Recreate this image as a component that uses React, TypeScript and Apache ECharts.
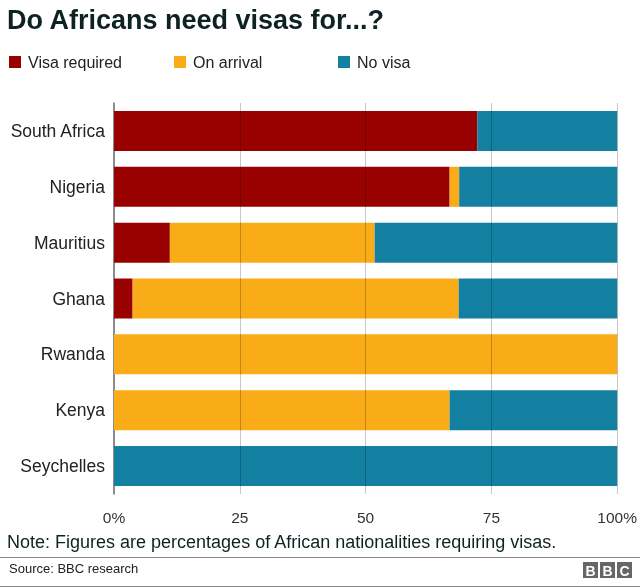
import React, { useEffect, useRef } from "react";
import * as echarts from "echarts";

const countries = ["South Africa", "Nigeria", "Mauritius", "Ghana", "Rwanda", "Kenya", "Seychelles"];
const visaRequired = [72.2, 66.7, 11.1, 3.7, 0, 0, 0];
const onArrival = [0, 1.9, 40.7, 64.8, 100, 66.7, 0];
const noVisa = [27.8, 31.4, 48.2, 31.5, 0, 33.3, 100];
const xTicks = [0, 25, 50, 75, 100];

const RED = "#990000";
const ORANGE = "#FAAB18";
const BLUE = "#1380A1";
const FONT = "Liberation Sans, Arial, sans-serif";

export default function App() {
  const ref = useRef<HTMLDivElement>(null);
  useEffect(() => {
    if (!ref.current) return;
    const chart = echarts.init(ref.current, undefined, { renderer: "svg" });
    const legendItem = (name: string, left: number) => ({
      data: [name],
      left,
      top: 54,
      itemWidth: 12,
      itemHeight: 12,
      icon: "rect",
      itemGap: 0,
      padding: 0,
      selectedMode: false,
      textStyle: { fontSize: 16, color: "#222", fontFamily: FONT, padding: [0, 0, 0, 2] },
    });
    chart.setOption({
      animation: false,
      textStyle: { fontFamily: FONT },
      legend: [legendItem("Visa required", 9), legendItem("On arrival", 174), legendItem("No visa", 338)],
      grid: { left: 114, right: 22, top: 103, height: 391, containLabel: false },
      xAxis: {
        type: "value",
        min: 0,
        max: 100,
        interval: 25,
        axisLine: { show: false },
        axisTick: { show: false },
        splitLine: { show: false },
        axisLabel: {
          margin: 15,
          fontSize: 15.5,
          color: "#333",
          fontFamily: FONT,
          formatter: (v: number) => (v === 0 || v === 100 ? v + "%" : String(v)),
          customValues: xTicks,
        },
      },
      yAxis: {
        type: "category",
        data: countries,
        inverse: true,
        axisLine: { show: true, lineStyle: { color: "#666", width: 1.5 } },
        axisTick: { show: false },
        axisLabel: { fontSize: 17.5, color: "#222", margin: 9, fontFamily: FONT },
      },
      series: [
        { name: "Visa required", type: "bar", stack: "all", data: visaRequired, barWidth: 40, itemStyle: { color: RED } },
        { name: "On arrival", type: "bar", stack: "all", data: onArrival, barWidth: 40, itemStyle: { color: ORANGE } },
        {
          name: "No visa",
          type: "bar",
          stack: "all",
          data: noVisa,
          barWidth: 40,
          itemStyle: { color: BLUE },
          markLine: {
            silent: true,
            symbol: "none",
            label: { show: false },
            lineStyle: { color: "rgba(0,0,0,0.22)", width: 1, type: "solid" },
            data: [{ xAxis: 25 }, { xAxis: 50 }, { xAxis: 75 }, { xAxis: 100 }],
            z: 10,
          },
        },
      ],
      graphic: [
        {
          type: "text",
          left: 7,
          top: 6,
          style: { text: "Do Africans need visas for...?", fontSize: 27, fontWeight: "bold", fill: "#0e2224", fontFamily: FONT },
        },
        {
          type: "text",
          left: 7,
          top: 533,
          style: { text: "Note: Figures are percentages of African nationalities requiring visas.", fontSize: 18, fill: "#0e2224", fontFamily: FONT },
        },
        { type: "line", shape: { x1: 0, y1: 557.5, x2: 640, y2: 557.5 }, style: { stroke: "#888", lineWidth: 1 } },
        {
          type: "text",
          left: 9,
          top: 562,
          style: { text: "Source: BBC research", fontSize: 13, fill: "#222", fontFamily: FONT },
        },
        { type: "line", shape: { x1: 0, y1: 586.5, x2: 640, y2: 586.5 }, style: { stroke: "#888", lineWidth: 1 } },
        ...["B", "B", "C"].flatMap((ch, i) => [
          { type: "rect", shape: { x: 583 + i * 17, y: 562, width: 15, height: 16 }, style: { fill: "#666" } },
          {
            type: "text",
            x: 583 + i * 17 + 7.5,
            y: 570.5,
            style: { text: ch, fontSize: 14, fontWeight: "bold", fill: "#fff", align: "center", verticalAlign: "middle", fontFamily: FONT },
          },
        ]),
      ],
    });
    return () => chart.dispose();
  }, []);
  return <div ref={ref} style={{ position: "fixed", left: 0, top: 0, width: 640, height: 588 }} />;
}
